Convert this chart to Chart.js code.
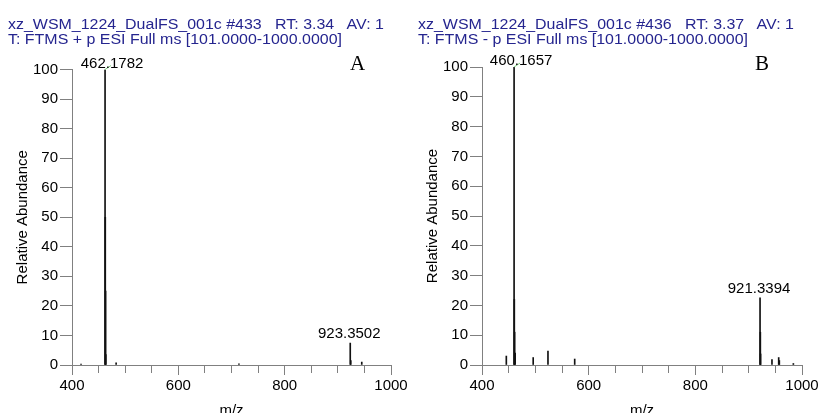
<!DOCTYPE html>
<html>
<head>
<meta charset="utf-8">
<script src="https://cdn.jsdelivr.net/npm/chart.js@4.4.1/dist/chart.umd.min.js"></script>
<style>
  html, body { margin: 0; padding: 0; background: #fff; width: 819px; height: 413px; overflow: hidden; position: relative; }
  canvas { position: absolute; top: 0; }
  .hdr { position: absolute; font-family: Arial, "Liberation Sans", sans-serif; font-size: 14px; line-height: 14px;
         color: #25258f; white-space: pre; transform: scaleX(1.14); transform-origin: 0 0; }
  .tag { position: absolute; font-family: "Times New Roman", "Liberation Serif", serif; font-size: 21px; line-height: 21px; color: #000; }
</style>
</head>
<body>
<canvas id="specA" width="410" height="424" style="left:0"></canvas>
<canvas id="specB" width="430" height="424" style="left:410px"></canvas>

<div class="hdr" style="left:8px;top:16.5px">xz_WSM_1224_DualFS_001c #433   RT: 3.34   AV: 1</div>
<div class="hdr" style="left:8px;top:31.5px">T: FTMS + p ESI Full ms [101.0000-1000.0000]</div>
<div class="tag" style="left:350px;top:53px">A</div>

<div class="hdr" style="left:418px;top:16.5px">xz_WSM_1224_DualFS_001c #436   RT: 3.37   AV: 1</div>
<div class="hdr" style="left:418px;top:31.5px">T: FTMS - p ESI Full ms [101.0000-1000.0000]</div>
<div class="tag" style="left:755px;top:53px">B</div>

<script>
// positive mode scan #433
const mzA = [417.0, 462.1782, 462.6, 463.18, 463.6, 483.0, 714.0, 923.3502, 924.35, 945.0];
const abA = [0.3, 100, 50, 25, 3.5, 0.7, 0.4, 7.4, 1.5, 1.0];
const labelledA = [462.1782, 923.3502];

// negative mode scan #436
const mzB = [445.6, 460.1657, 460.6, 461.17, 462.17, 496.0, 523.7, 573.8, 921.3394, 921.9, 922.34, 943.7, 956.3, 957.5, 983.8];
const abB = [3.0, 100, 22, 11, 4, 2.5, 4.7, 2.0, 22.5, 11, 3.7, 1.8, 2.5, 1.5, 0.5];
const labelledB = [460.1657, 921.3394];

const xRange = [400, 1000];
const xLabels = [400, 600, 800, 1000];
const yRange = [0, 100];

const FONT = 'Arial, "Liberation Sans", sans-serif';
const AXIS = '#808080';
const H = 424;        // canvas height, bottom part falls outside the page
const BOTTOM = 365;   // pixel row of the zero line

// m/z labels over the tagged peaks; the base peak label gets nudged right with a green leader
const peakLabels = {
  id: 'peakLabels',
  afterDatasetsDraw(chart, args, opts) {
    const { ctx, chartArea, scales: { x, y } } = chart;
    const pts = chart.data.datasets[0].data;
    ctx.save();
    ctx.font = '15px ' + FONT;
    ctx.fillStyle = '#000';
    ctx.textAlign = 'center';
    ctx.textBaseline = 'alphabetic';
    opts.values.forEach(mz => {
      const p = pts.find(d => d.x === mz);
      const px = x.getPixelForValue(p.x);
      const py = y.getPixelForValue(p.y);
      const text = p.x.toFixed(4);
      if (py - 16 < chartArea.top) {
        ctx.strokeStyle = '#7ccf7c';
        ctx.lineWidth = 1;
        ctx.beginPath();
        ctx.moveTo(px, py);
        ctx.lineTo(px + 6, py - 4);
        ctx.stroke();
        ctx.fillText(text, px + 7, py - 2);
      } else {
        ctx.fillText(text, px - 1, py - 5);
      }
    });
    ctx.restore();
  }
};

function spectrum(id, mz, ab, labelled, pad) {
  const pts = mz.map((m, i) => ({ x: m, y: ab[i] }));
  return new Chart(document.getElementById(id), {
    type: 'bar',
    data: {
      datasets: [{
        data: pts,
        backgroundColor: '#111',
        borderWidth: 0,
        barThickness: 1,
        grouped: false
      }]
    },
    options: {
      responsive: false,
      animation: false,
      events: [],
      layout: { padding: pad },
      plugins: {
        legend: { display: false },
        tooltip: { enabled: false },
        peakLabels: { values: labelled }
      },
      scales: {
        x: {
          type: 'linear',
          min: xRange[0],
          max: xRange[1],
          offset: false,
          afterFit: s => { s.height = H - BOTTOM; },
          border: { color: AXIS, width: 1 },
          grid: {
            display: true,
            drawOnChartArea: false,
            offset: false,
            tickLength: 10,
            color: AXIS,
            tickBorderDash: c => (c.tick && xLabels.includes(c.tick.value)) ? [] : [7, 20]
          },
          ticks: {
            stepSize: 50,
            autoSkip: false,
            maxRotation: 0,
            padding: 2,
            color: '#000',
            font: { family: FONT, size: 15 },
            callback: v => xLabels.includes(v) ? String(v) : ''
          },
          title: {
            display: true,
            text: 'm/z',
            color: '#000',
            font: { family: FONT, size: 15 },
            padding: { top: 0, bottom: 4 }
          }
        },
        y: {
          min: yRange[0],
          max: yRange[1],
          afterFit: s => { s.width = 72; },
          border: { color: AXIS, width: 1 },
          grid: { display: true, drawOnChartArea: false, tickLength: 12, color: AXIS },
          ticks: {
            stepSize: 10,
            padding: 2,
            color: '#000',
            font: { family: FONT, size: 15 }
          },
          title: {
            display: true,
            text: 'Relative Abundance',
            color: '#000',
            font: { family: FONT, size: 15 },
            padding: { top: 14, bottom: 0 }
          }
        }
      }
    },
    plugins: [peakLabels]
  });
}

spectrum('specA', mzA, abA, labelledA, { top: 69.5, right: 19, left: 0, bottom: 0 });
spectrum('specB', mzB, abB, labelledB, { top: 67, right: 38, left: 0, bottom: 0 });
</script>
</body>
</html>
